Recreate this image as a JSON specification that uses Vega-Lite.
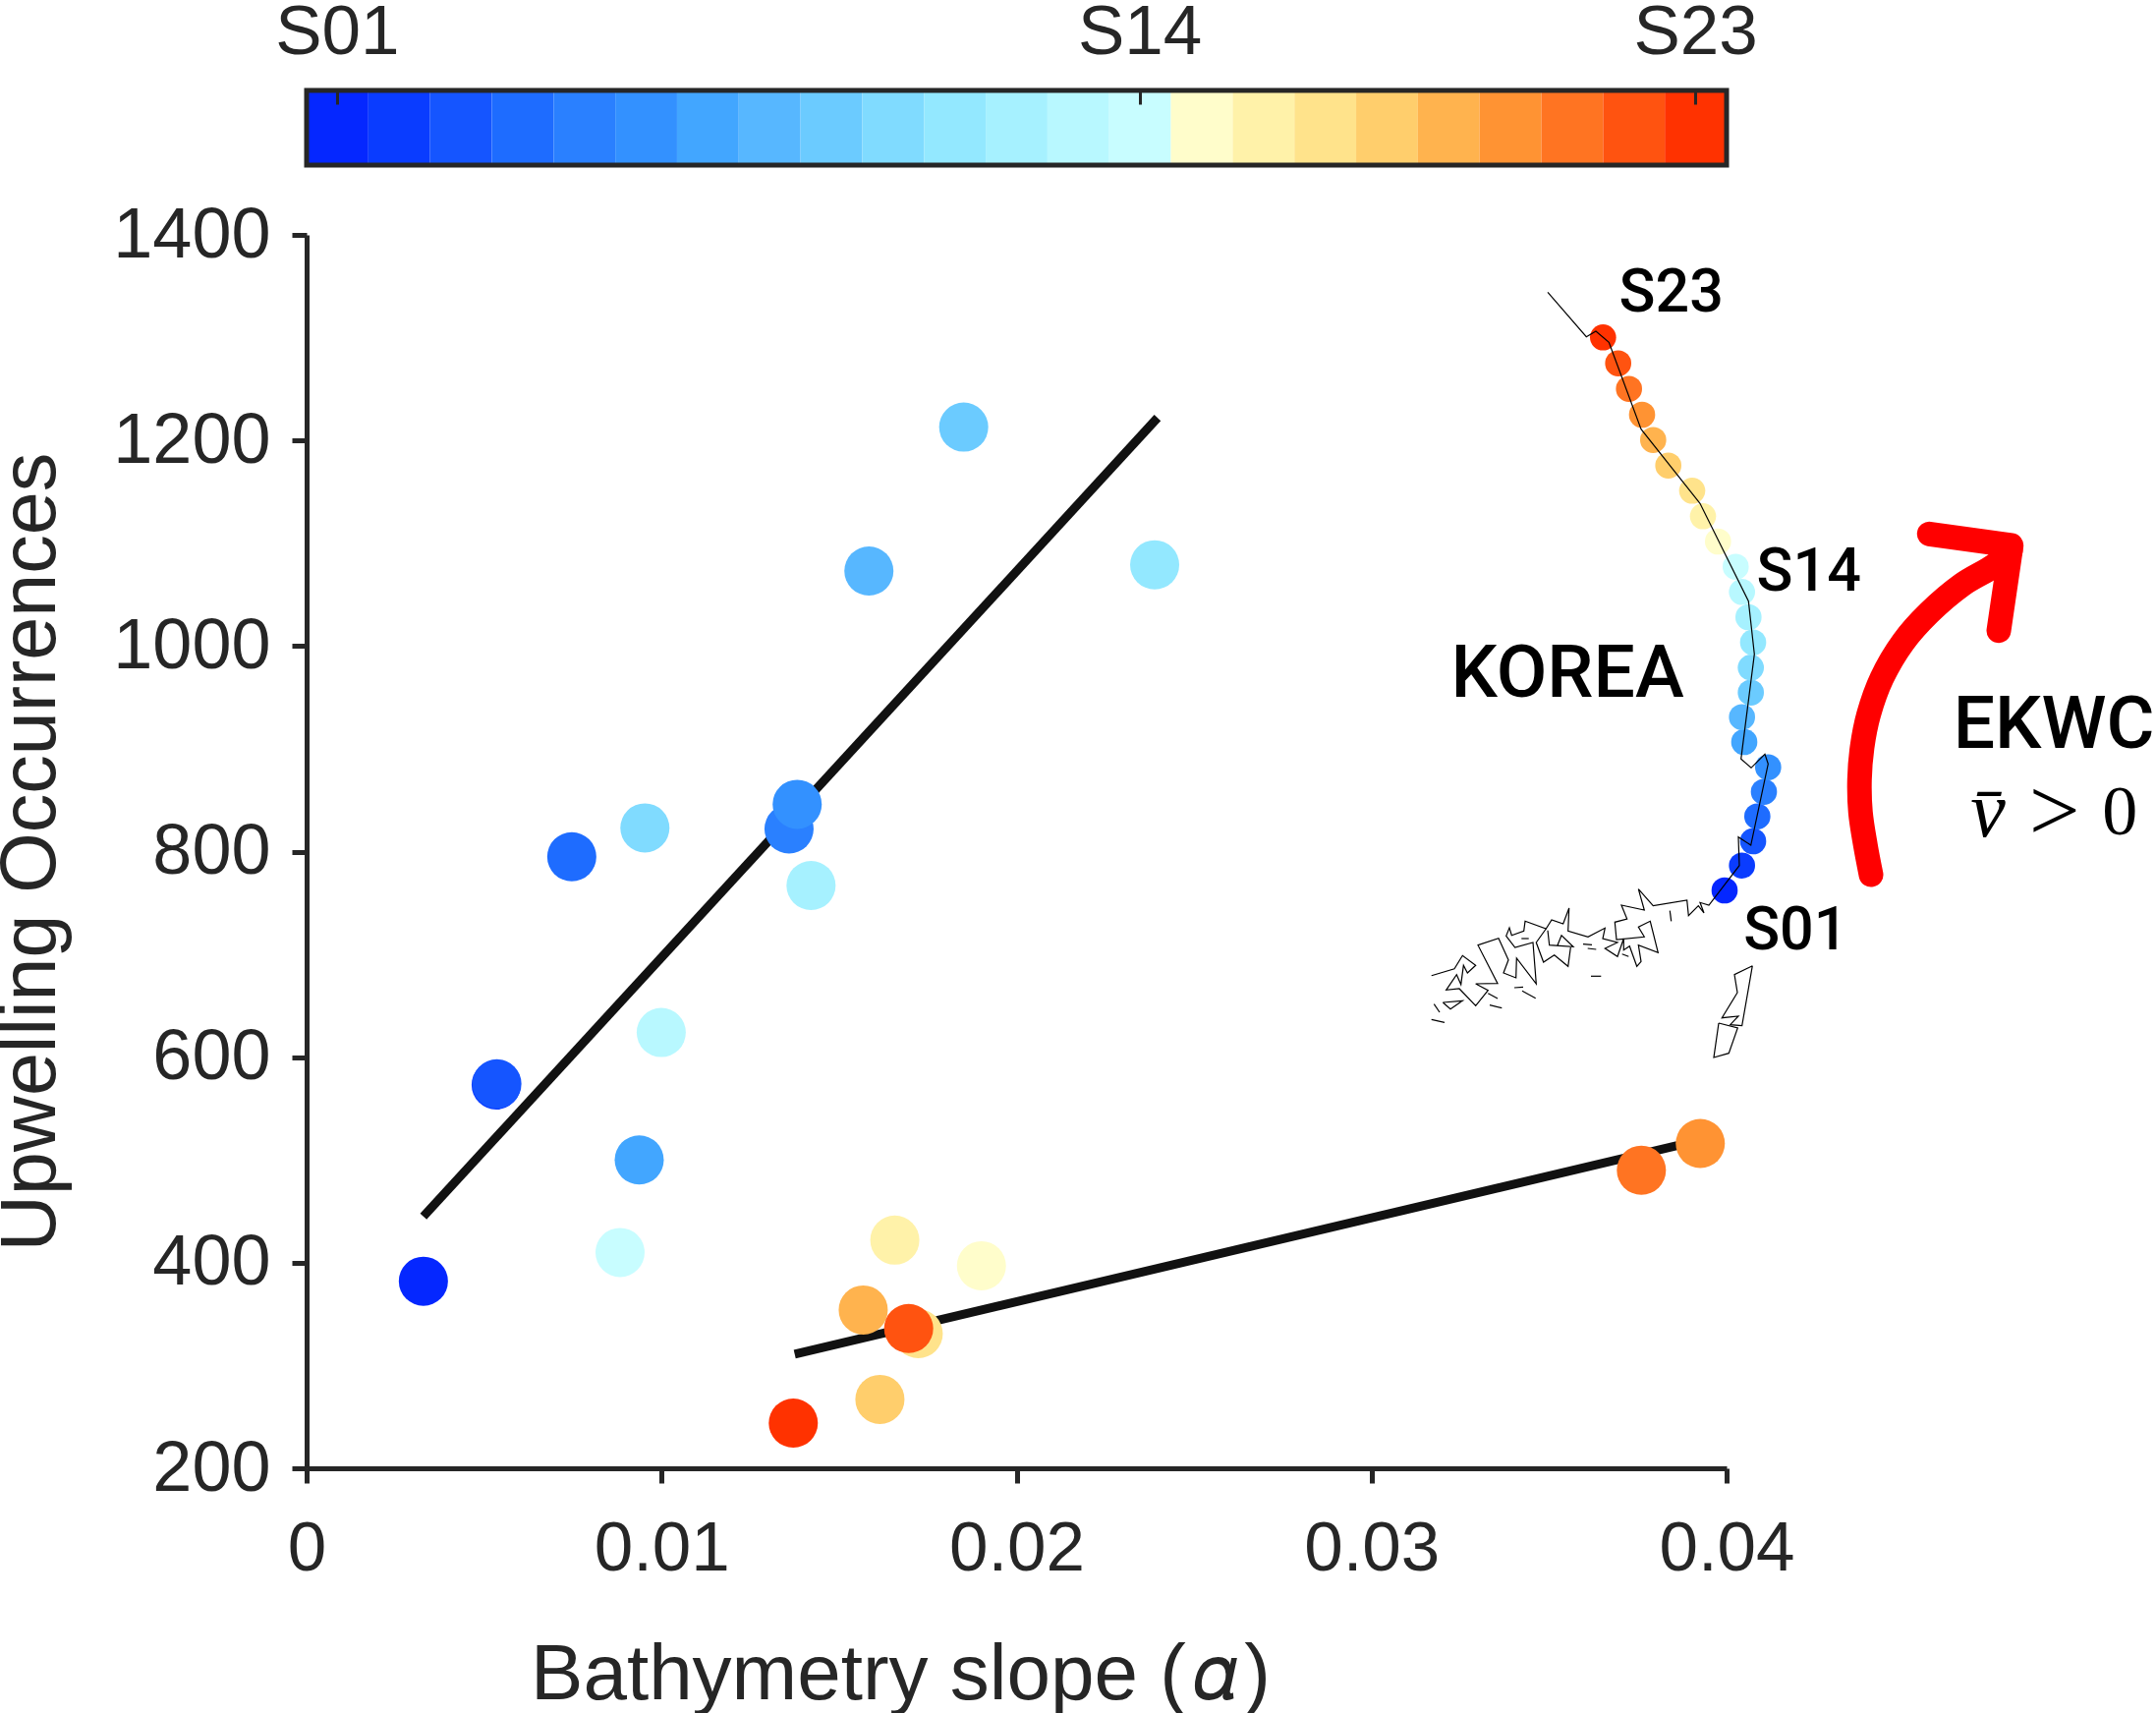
{
  "$schema": "https://vega.github.io/schema/vega-lite/v6.json",
  "background": "white",
  "padding": {"left": -8, "top": -3, "right": 0, "bottom": 0},
  "spacing": 32,
  "config": {
    "view": {"stroke": null},
    "range": {"category": ["#0527FF","#0A3CFF","#1555FF","#1E6CFF","#2A80FF","#3391FF","#42A6FF","#57B7FF","#6BCBFF","#80DBFF","#93E8FF","#A6F1FF","#B8F8FF","#C8FDFF","#FFFDCB","#FFF2A9","#FFE38B","#FFCE6C","#FFB34E","#FF9333","#FF7422","#FF5310","#FF3200"]}
  },
  "datasets": {
    "stations": [
      {"station":"S01","slope":0.00329,"occ":382,"east":355,"north":294},
      {"station":"S02","slope":0.00534,"occ":573,"east":372.7,"north":319.3},
      {"station":"S03","slope":0.00536,"occ":574,"east":384,"north":344},
      {"station":"S04","slope":0.00747,"occ":795,"east":388.3,"north":369.3},
      {"station":"S05","slope":0.01359,"occ":822,"east":395,"north":394.3},
      {"station":"S06","slope":0.01382,"occ":846,"east":399.3,"north":419.3},
      {"station":"S07","slope":0.00937,"occ":500,"east":375,"north":445},
      {"station":"S08","slope":0.01584,"occ":1073,"east":372.7,"north":470.3},
      {"station":"S09","slope":0.01851,"occ":1213,"east":381.7,"north":495.3},
      {"station":"S10","slope":0.00953,"occ":823,"east":381.7,"north":520.7},
      {"station":"S11","slope":0.02389,"occ":1079,"east":384,"north":546.3},
      {"station":"S12","slope":0.01421,"occ":767,"east":379.3,"north":572},
      {"station":"S13","slope":0.00999,"occ":624,"east":372.7,"north":597.7},
      {"station":"S14","slope":0.00883,"occ":410,"east":366.3,"north":623.3},
      {"station":"S15","slope":0.01901,"occ":397,"east":348.3,"north":649},
      {"station":"S16","slope":0.01657,"occ":422,"east":333,"north":674.7},
      {"station":"S17","slope":0.01723,"occ":331,"east":322,"north":700.7},
      {"station":"S18","slope":0.01615,"occ":267,"east":297.7,"north":726.3},
      {"station":"S19","slope":0.01568,"occ":354,"east":282.3,"north":752.3},
      {"station":"S20","slope":0.03926,"occ":516,"east":271,"north":778},
      {"station":"S21","slope":0.0376,"occ":490,"east":257.7,"north":804.3},
      {"station":"S22","slope":0.01696,"occ":336,"east":246.7,"north":830.3},
      {"station":"S23","slope":0.01371,"occ":244,"east":231.3,"north":856.7}
    ],
    "fits": [
      {"fit":"north","slope":0.00329,"occ":445},
      {"fit":"north","slope":0.02397,"occ":1222},
      {"fit":"south","slope":0.01375,"occ":311},
      {"fit":"south","slope":0.03861,"occ":514}
    ],
    "coast": [
      {"seg":"main","east":175,"north":902.7},{"seg":"main","east":214.3,"north":857.3},{"seg":"main","east":224,"north":863},{"seg":"main","east":237.3,"north":851.7},
      {"seg":"main","east":270,"north":763.3},{"seg":"main","east":330,"north":687.7},{"seg":"main","east":379.3,"north":588.3},{"seg":"main","east":385.3,"north":534.3},
      {"seg":"main","east":371.7,"north":427.7},{"seg":"main","east":382,"north":418.7},{"seg":"main","east":396,"north":432.7},{"seg":"main","east":399.3,"north":422.7},
      {"seg":"main","east":381.7,"north":340},{"seg":"main","east":369,"north":348.3},{"seg":"main","east":370,"north":319.3},{"seg":"main","east":339,"north":279},
      {"seg":"main","east":330,"north":281.7},{"seg":"main","east":334,"north":271},{"seg":"main","east":328.3,"north":278.3},{"seg":"main","east":318.3,"north":268.3},
      {"seg":"main","east":316.7,"north":284},{"seg":"main","east":282.3,"north":278.3},{"seg":"main","east":267.3,"north":295.3},{"seg":"main","east":273.3,"north":274},
      {"seg":"main","east":250,"north":279},{"seg":"main","east":255.7,"north":265},{"seg":"main","east":243.3,"north":261.7},{"seg":"main","east":245,"north":244},
      {"seg":"main","east":273.3,"north":246.7},{"seg":"main","east":267.3,"north":256.7},{"seg":"main","east":279.3,"north":262.7},{"seg":"main","east":287.3,"north":230.7},
      {"seg":"main","east":267.3,"north":238.3},{"seg":"main","east":270,"north":221.7},{"seg":"main","east":265.7,"north":216.7},{"seg":"main","east":258.3,"north":237.3},
      {"seg":"main","east":252.3,"north":233.3},{"seg":"main","east":252.3,"north":245},{"seg":"main","east":246,"north":226.7},{"seg":"main","east":233.3,"north":235},
      {"seg":"main","east":246,"north":241},{"seg":"main","east":231,"north":245},{"seg":"main","east":233.3,"north":255.7},{"seg":"main","east":216,"north":246.7},
      {"seg":"main","east":195.7,"north":252.7},{"seg":"main","east":196.7,"north":276},{"seg":"main","east":190.7,"north":260},{"seg":"main","east":179,"north":264},
      {"seg":"main","east":173.3,"north":255},{"seg":"main","east":152,"north":262.7},{"seg":"main","east":150.7,"north":252.7},{"seg":"main","east":138.3,"north":248.3},
      {"seg":"main","east":136,"north":256},{"seg":"main","east":132.7,"north":247.7},{"seg":"main","east":141.7,"north":236},{"seg":"main","east":160,"north":241},
      {"seg":"main","east":163.3,"north":199},{"seg":"main","east":143.3,"north":225},{"seg":"main","east":142.7,"north":205},{"seg":"main","east":130,"north":210},
      {"seg":"main","east":135,"north":223.3},{"seg":"main","east":125,"north":245.3},{"seg":"main","east":104,"north":238.3},{"seg":"main","east":124,"north":199.3},
      {"seg":"main","east":101.7,"north":199},{"seg":"main","east":114.3,"north":192.3},{"seg":"main","east":101.7,"north":176.7},{"seg":"main","east":85,"north":194},
      {"seg":"main","east":71.7,"north":192.7},{"seg":"main","east":82.3,"north":208.3},{"seg":"main","east":86.7,"north":198.3},{"seg":"main","east":89.3,"north":217.7},
      {"seg":"main","east":93.3,"north":210},{"seg":"main","east":101.7,"north":217.7},{"seg":"main","east":88.3,"north":227.7},{"seg":"main","east":80,"north":214.3},
      {"seg":"main","east":56.7,"north":207.3},
      {"seg":"b","east":175,"north":253.3},{"seg":"b","east":176.7,"north":238.3},{"seg":"b","east":201,"north":236.7},{"seg":"b","east":189,"north":248.3},{"seg":"b","east":185,"north":238.3},
      {"seg":"c","east":173.3,"north":255},{"seg":"c","east":163.3,"north":241},{"seg":"c","east":170.7,"north":221},{"seg":"c","east":181.7,"north":228.3},{"seg":"c","east":195.7,"north":216.7},{"seg":"c","east":198.3,"north":236},
      {"seg":"d","east":68.3,"north":180},{"seg":"d","east":76,"north":173.3},{"seg":"d","east":88.3,"north":181.7},{"seg":"d","east":68.3,"north":180},
      {"seg":"e1","east":59.3,"north":178.3},{"seg":"e1","east":65,"north":170},
      {"seg":"e2","east":56.7,"north":162.7},{"seg":"e2","east":70,"north":159.7},
      {"seg":"e3","east":116,"north":177.3},{"seg":"e3","east":128.3,"north":174.3},
      {"seg":"e4","east":114.3,"north":189.3},{"seg":"e4","east":124,"north":184},
      {"seg":"e5","east":141,"north":195},{"seg":"e5","east":150,"north":195.7},
      {"seg":"e6","east":149,"north":191.7},{"seg":"e6","east":162.7,"north":184.3},
      {"seg":"e7","east":148.3,"north":245},{"seg":"e7","east":155.7,"north":245},
      {"seg":"e8","east":211,"north":239.3},{"seg":"e8","east":220,"north":238.7},
      {"seg":"e9","east":215.7,"north":235},{"seg":"e9","east":224.3,"north":234},
      {"seg":"e10","east":219,"north":206.7},{"seg":"e10","east":229.3,"north":206.7},
      {"seg":"e11","east":250.7,"north":229.3},{"seg":"e11","east":257.3,"north":226.7},
      {"seg":"e12","east":299.3,"north":273.3},{"seg":"e12","east":300.7,"north":262.7},
      {"seg":"isl1","east":383.3,"north":217.3},{"seg":"isl1","east":365,"north":208.3},{"seg":"isl1","east":368,"north":190},{"seg":"isl1","east":352.3,"north":164.3},{"seg":"isl1","east":369,"north":166},{"seg":"isl1","east":360.7,"north":157.3},{"seg":"isl1","east":372.7,"north":156.3},{"seg":"isl1","east":383.3,"north":217.3},
      {"seg":"isl2","east":349,"north":159},{"seg":"isl2","east":368.3,"north":154},{"seg":"isl2","east":359.3,"north":128.3},{"seg":"isl2","east":344,"north":124},{"seg":"isl2","east":349,"north":159}
    ],
    "shaft": [
      {"east":504,"north":310},{"east":498.3,"north":340},{"east":493.3,"north":373.3},{"east":492.3,"north":406.7},{"east":495,"north":440},{"east":501.7,"north":473.3},
      {"east":515,"north":510},{"east":536.7,"north":546.7},{"east":563.3,"north":576.7},{"east":596.7,"north":605},{"east":630,"north":625},{"east":646,"north":640}
    ],
    "head": [
      {"east":563.3,"north":656.7},{"east":646.7,"north":645},{"east":634,"north":558.3}
    ],
    "smallLabels": [
      {"label":"S23","east":300.7,"north":901},
      {"label":"S14","east":440.7,"north":617.3},
      {"label":"S01","east":427.3,"north":252}
    ],
    "bigLabels": [
      {"label":"KOREA","east":195,"north":514},
      {"label":"EKWC","east":690,"north":461.7}
    ]
  },
  "vconcat": [
    {
      "width": 1445,
      "height": 76,
      "layer": [
        {
          "data": {"name": "stations"},
          "mark": {"type": "rect"},
          "encoding": {
            "x": {
              "field": "station",
              "type": "nominal",
              "scale": {"paddingInner": 0, "paddingOuter": 0},
              "axis": {
                "orient": "top",
                "title": null,
                "values": ["S01", "S14", "S23"],
                "domain": false,
                "labelAngle": 0,
                "labelFont": "Liberation Sans",
                "labelFontSize": 71,
                "labelColor": "#262626",
                "labelPadding": 37,
                "tickSize": -14,
                "tickWidth": 3,
                "tickColor": "#262626",
                "zindex": 1
              }
            },
            "color": {"field": "station", "type": "nominal", "legend": null}
          }
        },
        {
          "data": {"values": [{"frame": 1}]},
          "mark": {"type": "rect", "fill": null, "stroke": "#262626", "strokeWidth": 5},
          "encoding": {}
        }
      ]
    },
    {
      "width": 1445,
      "height": 1255,
      "resolve": {"scale": {"x": "independent", "y": "independent"}},
      "layer": [
        {
          "encoding": {
            "x": {
              "field": "slope",
              "type": "quantitative",
              "scale": {"domain": [0, 0.04], "nice": false},
              "axis": {
                "title": "Bathymetry slope (\u200a𝛼\u200a)",
                "titleX": 604,
                "values": [0, 0.01, 0.02, 0.03, 0.04],
                "format": "~g",
                "grid": false,
                "labelFlush": false,
                "domainColor": "#262626",
                "domainWidth": 5,
                "tickColor": "#262626",
                "tickWidth": 5,
                "tickSize": 15,
                "labelFont": "Liberation Sans",
                "labelFontSize": 71,
                "labelColor": "#262626",
                "labelPadding": 32,
                "titleFont": "Liberation Sans",
                "titleFontSize": 80,
                "titleFontWeight": "normal",
                "titleColor": "#262626",
                "titlePadding": 54
              }
            },
            "y": {
              "field": "occ",
              "type": "quantitative",
              "scale": {"domain": [200, 1400], "nice": false},
              "axis": {
                "title": "Upwelling Occurrences",
                "values": [200, 400, 600, 800, 1000, 1200, 1400],
                "format": "d",
                "grid": false,
                "domainColor": "#262626",
                "domainWidth": 5,
                "tickColor": "#262626",
                "tickWidth": 5,
                "tickSize": 15,
                "labelFont": "Liberation Sans",
                "labelFontSize": 72,
                "labelColor": "#262626",
                "labelPadding": 22,
                "titleFont": "Liberation Sans",
                "titleFontSize": 79,
                "titleFontWeight": "normal",
                "titleColor": "#262626",
                "titlePadding": 42
              }
            }
          },
          "layer": [
            {
              "data": {"name": "fits"},
              "mark": {"type": "line", "color": "#111111", "strokeWidth": 9},
              "encoding": {"detail": {"field": "fit", "type": "nominal"}}
            },
            {
              "data": {"name": "stations"},
              "mark": {"type": "circle", "size": 2500, "opacity": 1},
              "encoding": {"color": {"field": "station", "type": "nominal", "legend": null}}
            }
          ]
        },
        {
          "encoding": {
            "x": {"field": "east", "type": "quantitative", "scale": {"domain": [-1088, 357], "nice": false, "zero": false}, "axis": null},
            "y": {"field": "north", "type": "quantitative", "scale": {"domain": [-294, 961], "nice": false, "zero": false}, "axis": null}
          },
          "layer": [
            {
              "data": {"name": "stations"},
              "mark": {"type": "circle", "size": 710, "opacity": 1},
              "encoding": {"color": {"field": "station", "type": "nominal", "legend": null}}
            },
            {
              "data": {"name": "coast"},
              "mark": {"type": "line", "color": "#000000", "strokeWidth": 1.2},
              "encoding": {"detail": {"field": "seg", "type": "nominal"}, "order": {"value": null}}
            },
            {
              "data": {"name": "shaft"},
              "mark": {"type": "line", "color": "#ff0000", "strokeWidth": 25, "strokeCap": "round", "interpolate": "catmull-rom"},
              "encoding": {"order": {"value": null}}
            },
            {
              "data": {"name": "head"},
              "mark": {"type": "line", "color": "#ff0000", "strokeWidth": 25, "strokeCap": "round", "strokeJoin": "round"},
              "encoding": {"order": {"value": null}}
            },
            {
              "data": {"name": "smallLabels"},
              "mark": {"type": "text", "font": "Roboto", "fontWeight": 500, "fontSize": 61, "color": "#000000", "baseline": "middle"},
              "encoding": {"text": {"field": "label"}}
            },
            {
              "data": {"name": "bigLabels"},
              "mark": {"type": "text", "font": "Roboto", "fontWeight": 500, "fontSize": 75, "color": "#000000", "baseline": "middle"},
              "encoding": {"text": {"field": "label"}}
            },
            {
              "data": {"values": [{"label": "v̄", "east": 623, "north": 373.3}]},
              "mark": {"type": "text", "font": "Liberation Serif", "fontStyle": "italic", "fontSize": 80, "color": "#000000", "baseline": "middle"},
              "encoding": {"text": {"field": "label"}}
            },
            {
              "data": {"values": [{"label": ">", "east": 690.7, "north": 373.3}]},
              "mark": {"type": "text", "font": "Liberation Serif", "fontSize": 92, "color": "#000000", "baseline": "middle"},
              "encoding": {"text": {"field": "label"}}
            },
            {
              "data": {"values": [{"label": "0", "east": 757.3, "north": 373.3}]},
              "mark": {"type": "text", "font": "Liberation Serif", "fontSize": 72, "color": "#000000", "baseline": "middle"},
              "encoding": {"text": {"field": "label"}}
            }
          ]
        }
      ]
    }
  ]
}
